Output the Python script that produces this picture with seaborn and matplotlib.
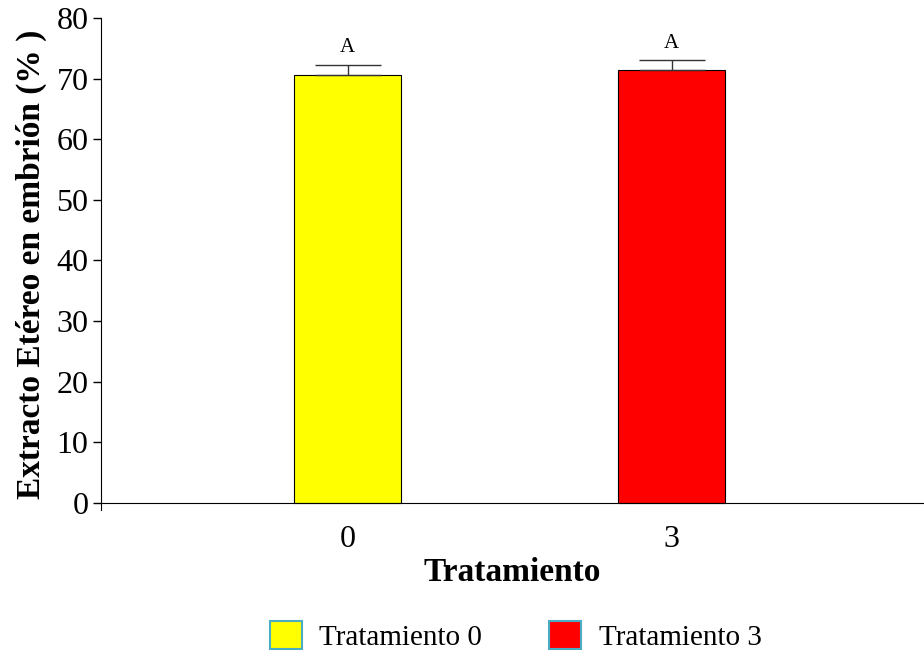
"""
extracto etereo en embrion por tratamiento
"""
import pandas as pd
import seaborn as sns
import matplotlib.pyplot as plt
from matplotlib.patches import Patch

sns.set_style("ticks")
plt.rcParams["font.family"] = "serif"
plt.rcParams["font.serif"] = ["Liberation Serif", "DejaVu Serif"]
plt.rcParams["text.color"] = "black"
plt.rcParams["axes.labelcolor"] = "black"
plt.rcParams["xtick.color"] = "black"
plt.rcParams["ytick.color"] = "black"
plt.rcParams["axes.edgecolor"] = "black"

tratamientos = ["0", "3"]
extracto = [70.6, 71.4]
error = [1.7, 1.7]
letras = ["A", "A"]
colores = ["#FFFF00", "#FF0000"]
leyenda = ["Tratamiento 0", "Tratamiento 3"]

df = pd.DataFrame({"tratamiento": tratamientos, "extracto": extracto})

fig = plt.figure(figsize=(9.24, 6.5), dpi=100)
ax = fig.add_axes([0.1093, 0.2154, 0.8907, 0.7569])

sns.barplot(data=df, x="tratamiento", y="extracto", hue="tratamiento",
            palette=colores, saturation=1, width=0.33, edgecolor="black",
            linewidth=0.8, legend=False, ax=ax)
ax.errorbar(range(len(extracto)), extracto, yerr=[[0] * len(error), error],
            fmt="none", ecolor="#333333", elinewidth=1, capsize=24, capthick=1)
for i, (v, e, l) in enumerate(zip(extracto, error, letras)):
    ax.text(i, v + e + 1.2, l, ha="center", va="bottom", fontsize=15)

ax.set_xlim(-0.761, 1.779)
ax.set_ylim(-1.2, 80)
ax.set_yticks(range(0, 81, 10))
ax.spines["bottom"].set_position(("data", 0))
ax.spines["right"].set_visible(False)
ax.spines["top"].set_visible(False)
ax.spines["left"].set_bounds(-1.2, 80)
ax.tick_params(axis="x", length=0, labelsize=23, pad=16)
ax.tick_params(axis="y", length=6, width=1, labelsize=23, pad=3)

ax.set_xlabel("Tratamiento", fontsize=24, fontweight="bold", labelpad=2)
ax.set_ylabel("Extracto Etéreo en embrión (% )", fontsize=24,
              fontweight="bold", labelpad=7)

handles = [Patch(facecolor=c, edgecolor="#4BACC6", linewidth=1.5) for c in colores]
fig.legend(handles, leyenda, loc="center", bbox_to_anchor=(0.558, 0.022),
           ncol=2, frameon=False, fontsize=21, handlelength=1.1,
           handleheight=1.1, columnspacing=2.3, handletextpad=0.6)

fig.savefig("out.png", dpi=100)
plt.close()
